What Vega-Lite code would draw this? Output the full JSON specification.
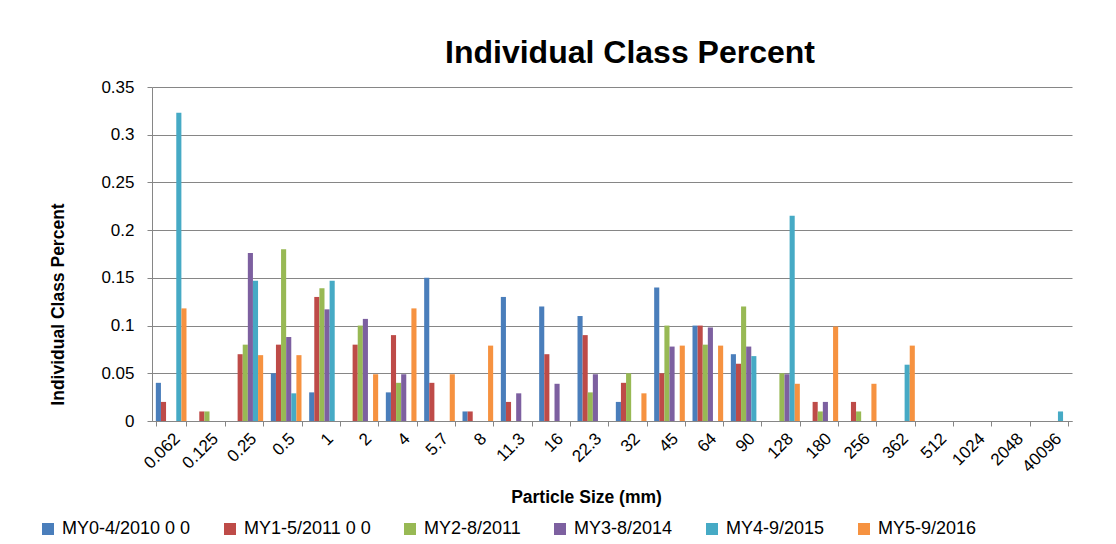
{
  "$schema": "https://vega.github.io/schema/vega-lite/v6.json",
  "autosize": {"type": "none"},
  "width": 920,
  "height": 334,
  "padding": {"left": 152, "top": 87, "right": 44, "bottom": 123},
  "background": "white",
  "config": {
    "font": "Liberation Sans",
    "view": {"stroke": null},
    "axis": {"labelColor": "#000000", "titleColor": "#000000", "domainColor": "#868686", "tickColor": "#868686", "gridColor": "#868686"}
  },
  "title": {
    "text": "Individual Class Percent",
    "font": "Liberation Sans",
    "fontSize": 32,
    "fontWeight": "bold",
    "color": "#000000",
    "anchor": "middle",
    "dx": 18,
    "offset": 8,
    "frame": "group"
  },
  "data": {
    "values": [
      {"size": "0.062", "series": "MY0-4/2010 0 0", "value": 0.04},
      {"size": "0.062", "series": "MY1-5/2011 0 0", "value": 0.02},
      {"size": "0.062", "series": "MY4-9/2015", "value": 0.323},
      {"size": "0.062", "series": "MY5-9/2016", "value": 0.118},
      {"size": "0.125", "series": "MY1-5/2011 0 0", "value": 0.01},
      {"size": "0.125", "series": "MY2-8/2011", "value": 0.01},
      {"size": "0.25", "series": "MY1-5/2011 0 0", "value": 0.07},
      {"size": "0.25", "series": "MY2-8/2011", "value": 0.08},
      {"size": "0.25", "series": "MY3-8/2014", "value": 0.176},
      {"size": "0.25", "series": "MY4-9/2015", "value": 0.147},
      {"size": "0.25", "series": "MY5-9/2016", "value": 0.069},
      {"size": "0.5", "series": "MY0-4/2010 0 0", "value": 0.05},
      {"size": "0.5", "series": "MY1-5/2011 0 0", "value": 0.08},
      {"size": "0.5", "series": "MY2-8/2011", "value": 0.18},
      {"size": "0.5", "series": "MY3-8/2014", "value": 0.088},
      {"size": "0.5", "series": "MY4-9/2015", "value": 0.029},
      {"size": "0.5", "series": "MY5-9/2016", "value": 0.069},
      {"size": "1", "series": "MY0-4/2010 0 0", "value": 0.03},
      {"size": "1", "series": "MY1-5/2011 0 0", "value": 0.13},
      {"size": "1", "series": "MY2-8/2011", "value": 0.139},
      {"size": "1", "series": "MY3-8/2014", "value": 0.117},
      {"size": "1", "series": "MY4-9/2015", "value": 0.147},
      {"size": "2", "series": "MY1-5/2011 0 0", "value": 0.08},
      {"size": "2", "series": "MY2-8/2011", "value": 0.1},
      {"size": "2", "series": "MY3-8/2014", "value": 0.107},
      {"size": "2", "series": "MY5-9/2016", "value": 0.049},
      {"size": "4", "series": "MY0-4/2010 0 0", "value": 0.03},
      {"size": "4", "series": "MY1-5/2011 0 0", "value": 0.09},
      {"size": "4", "series": "MY2-8/2011", "value": 0.04},
      {"size": "4", "series": "MY3-8/2014", "value": 0.049},
      {"size": "4", "series": "MY5-9/2016", "value": 0.118},
      {"size": "5.7", "series": "MY0-4/2010 0 0", "value": 0.15},
      {"size": "5.7", "series": "MY1-5/2011 0 0", "value": 0.04},
      {"size": "5.7", "series": "MY5-9/2016", "value": 0.049},
      {"size": "8", "series": "MY0-4/2010 0 0", "value": 0.01},
      {"size": "8", "series": "MY1-5/2011 0 0", "value": 0.01},
      {"size": "8", "series": "MY5-9/2016", "value": 0.079},
      {"size": "11.3", "series": "MY0-4/2010 0 0", "value": 0.13},
      {"size": "11.3", "series": "MY1-5/2011 0 0", "value": 0.02},
      {"size": "11.3", "series": "MY3-8/2014", "value": 0.029},
      {"size": "16", "series": "MY0-4/2010 0 0", "value": 0.12},
      {"size": "16", "series": "MY1-5/2011 0 0", "value": 0.07},
      {"size": "16", "series": "MY3-8/2014", "value": 0.039},
      {"size": "22.3", "series": "MY0-4/2010 0 0", "value": 0.11},
      {"size": "22.3", "series": "MY1-5/2011 0 0", "value": 0.09},
      {"size": "22.3", "series": "MY2-8/2011", "value": 0.03},
      {"size": "22.3", "series": "MY3-8/2014", "value": 0.049},
      {"size": "32", "series": "MY0-4/2010 0 0", "value": 0.02},
      {"size": "32", "series": "MY1-5/2011 0 0", "value": 0.04},
      {"size": "32", "series": "MY2-8/2011", "value": 0.05},
      {"size": "32", "series": "MY5-9/2016", "value": 0.029},
      {"size": "45", "series": "MY0-4/2010 0 0", "value": 0.14},
      {"size": "45", "series": "MY1-5/2011 0 0", "value": 0.05},
      {"size": "45", "series": "MY2-8/2011", "value": 0.1},
      {"size": "45", "series": "MY3-8/2014", "value": 0.078},
      {"size": "45", "series": "MY5-9/2016", "value": 0.079},
      {"size": "64", "series": "MY0-4/2010 0 0", "value": 0.1},
      {"size": "64", "series": "MY1-5/2011 0 0", "value": 0.1},
      {"size": "64", "series": "MY2-8/2011", "value": 0.08},
      {"size": "64", "series": "MY3-8/2014", "value": 0.098},
      {"size": "64", "series": "MY5-9/2016", "value": 0.079},
      {"size": "90", "series": "MY0-4/2010 0 0", "value": 0.07},
      {"size": "90", "series": "MY1-5/2011 0 0", "value": 0.06},
      {"size": "90", "series": "MY2-8/2011", "value": 0.12},
      {"size": "90", "series": "MY3-8/2014", "value": 0.078},
      {"size": "90", "series": "MY4-9/2015", "value": 0.068},
      {"size": "128", "series": "MY2-8/2011", "value": 0.05},
      {"size": "128", "series": "MY3-8/2014", "value": 0.049},
      {"size": "128", "series": "MY4-9/2015", "value": 0.215},
      {"size": "128", "series": "MY5-9/2016", "value": 0.039},
      {"size": "180", "series": "MY1-5/2011 0 0", "value": 0.02},
      {"size": "180", "series": "MY2-8/2011", "value": 0.01},
      {"size": "180", "series": "MY3-8/2014", "value": 0.02},
      {"size": "180", "series": "MY5-9/2016", "value": 0.099},
      {"size": "256", "series": "MY1-5/2011 0 0", "value": 0.02},
      {"size": "256", "series": "MY2-8/2011", "value": 0.01},
      {"size": "256", "series": "MY5-9/2016", "value": 0.039},
      {"size": "362", "series": "MY4-9/2015", "value": 0.059},
      {"size": "362", "series": "MY5-9/2016", "value": 0.079},
      {"size": "40096", "series": "MY4-9/2015", "value": 0.01}
    ]
  },
  "mark": {"type": "bar"},
  "encoding": {
    "x": {
      "field": "size",
      "type": "nominal",
      "scale": {
        "domain": ["0.062", "0.125", "0.25", "0.5", "1", "2", "4", "5.7", "8", "11.3", "16", "22.3", "32", "45", "64", "90", "128", "180", "256", "362", "512", "1024", "2048", "40096"],
        "paddingInner": 0.2,
        "paddingOuter": 0.1
      },
      "axis": {
        "title": "Particle Size (mm)",
        "titleFontSize": 17.5,
        "titleFontWeight": "bold",
        "titleX": 434,
        "titleY": 81,
        "titleAlign": "center",
        "titleBaseline": "alphabetic",
        "labelAngle": -45,
        "labelFontSize": 17,
        "labelPadding": 4,
        "tickBand": "extent",
        "tickSize": 5,
        "grid": false
      }
    },
    "xOffset": {
      "field": "series",
      "type": "nominal",
      "scale": {"domain": ["MY0-4/2010 0 0", "MY1-5/2011 0 0", "MY2-8/2011", "MY3-8/2014", "MY4-9/2015", "MY5-9/2016"], "paddingInner": 0, "paddingOuter": 0}
    },
    "y": {
      "field": "value",
      "type": "quantitative",
      "scale": {"domain": [0, 0.35], "nice": false},
      "axis": {
        "title": "Individual Class Percent",
        "titleFontSize": 17.5,
        "titleFontWeight": "bold",
        "titleX": -89,
        "titleY": 217,
        "titleAlign": "center",
        "titleBaseline": "alphabetic",
        "titleAngle": -90,
        "values": [0, 0.05, 0.1, 0.15, 0.2, 0.25, 0.3, 0.35],
        "format": ".2~f",
        "labelFontSize": 17,
        "labelPadding": 13,
        "tickSize": 5,
        "grid": true
      }
    },
    "color": {
      "field": "series",
      "type": "nominal",
      "scale": {
        "domain": ["MY0-4/2010 0 0", "MY1-5/2011 0 0", "MY2-8/2011", "MY3-8/2014", "MY4-9/2015", "MY5-9/2016"],
        "range": ["#4A7EBB", "#BE4B48", "#98B954", "#7D60A0", "#46AAC5", "#F69240"]
      },
      "legend": {
        "title": null,
        "orient": "none",
        "direction": "horizontal",
        "columns": 6,
        "legendX": -113,
        "legendY": 433,
        "symbolType": "square",
        "symbolSize": 144,
        "symbolStrokeWidth": 0,
        "symbolOpacity": 1,
        "labelFontSize": 18,
        "labelColor": "#000000",
        "labelOffset": 5,
        "columnPadding": 30
      }
    }
  }
}
